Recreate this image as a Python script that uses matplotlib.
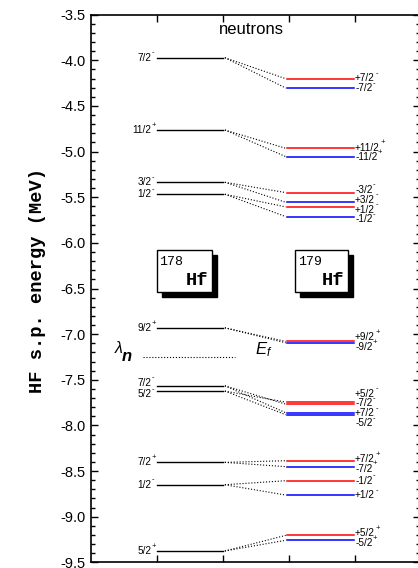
import numpy as np
import matplotlib
matplotlib.use("Agg")
import matplotlib.pyplot as plt
from matplotlib.patches import Rectangle
from matplotlib.ticker import MultipleLocator

plt.rcParams['font.family'] = ['Liberation Sans', 'DejaVu Sans']
plt.rcParams['mathtext.fontset'] = 'custom'
plt.rcParams['mathtext.rm'] = 'Liberation Sans'
plt.rcParams['mathtext.it'] = 'Liberation Sans:italic'
plt.rcParams['mathtext.bf'] = 'Liberation Sans:bold'

## 178Hf levels (left column)
left_omega = ['7/2', '11/2', '3/2', '1/2', '9/2', '7/2', '5/2', '7/2', '1/2', '5/2']
left_parity = ['-', '+', '-', '-', '+', '-', '-', '+', '-', '+']
left_e = [-3.971, -4.763, -5.336, -5.467, -6.931, -7.566, -7.624, -8.405, -8.650, -9.376]

## 179Hf partner levels (right column), one red and one blue per left level
red_sig = ['+', '+', '-', '+', '+', '-', '+', '+', '-', '+']
red_e = [-4.201, -4.964, -5.449, -5.606, -7.080, -7.767, -7.745, -8.387, -8.606, -9.205]
blue_sig = ['-', '-', '+', '-', '-', '+', '-', '-', '+', '-']
blue_e = [-4.303, -5.055, -5.555, -5.712, -7.095, -7.861, -7.883, -8.452, -8.763, -9.259]

lambda_n = -7.252


def spread(vals, gap):
    # push labels apart so they do not overlap, keeping groups centred
    idx = sorted(range(len(vals)), key=lambda i: -vals[i])
    blocks = []
    for i in idx:
        blocks.append([[i], vals[i]])
        while len(blocks) > 1:
            a, b = blocks[-2], blocks[-1]
            a_bot = a[1] - gap * (len(a[0]) - 1) / 2
            b_top = b[1] + gap * (len(b[0]) - 1) / 2
            if a_bot - b_top < gap:
                members = a[0] + b[0]
                mean = np.mean([vals[j] for j in members])
                blocks[-2:] = [[members, mean]]
            else:
                break
    out = [0.0] * len(vals)
    for members, c in blocks:
        n = len(members)
        for k, j in enumerate(members):
            out[j] = c + gap * ((n - 1) / 2 - k)
    return out


def level_label(ax, x, y, main, par, ha):
    t = ax.text(x, y, main, ha=ha, va='center', fontsize=7.2)
    ax.annotate(par, xy=(1, 0.62), xycoords=t, xytext=(0.3, 0),
                textcoords='offset points', ha='left', va='bottom', fontsize=5.5)


fig = plt.figure(figsize=(4.18, 5.68), dpi=100)
ax = fig.add_axes([90.7 / 418, 5.7 / 568, 328.8 / 418, 547.6 / 568])
ax.set_xlim(0, 4.975)
ax.set_ylim(-9.5, -3.5)

for e in left_e:
    ax.plot([1.0, 2.0], [e, e], color='black', lw=1.0)
for e in red_e:
    ax.plot([2.97, 3.99], [e, e], color='#ff0000', lw=1.1)
for e in blue_e:
    ax.plot([2.97, 3.99], [e, e], color='#0000ff', lw=1.1)

# dotted connectors
for i, e in enumerate(left_e):
    for e2 in (red_e[i], blue_e[i]):
        ax.plot([2.03, 2.95], [e, e2], color='black', lw=0.8, ls=':')

# level labels
left_y = spread(left_e, 0.125)
for i in range(len(left_e)):
    level_label(ax, 0.92, left_y[i], left_omega[i], left_parity[i], 'right')

right_e = red_e + blue_e
right_om = list(left_omega) * 2
right_par = list(left_parity) * 2
# in the -7.7 MeV group the red partners of 7/2- and 5/2- cross
right_sig = red_sig + blue_sig
right_y = spread(right_e, 0.108)
for i in range(len(right_e)):
    level_label(ax, 4.0, right_y[i], right_sig[i] + right_om[i], right_par[i], 'left')

# Fermi levels
ax.plot([0.79, 2.18], [lambda_n, lambda_n], color='black', lw=0.8, ls=':')
ax.text(0.42, -7.16, 'λ', ha='center', va='center', fontsize=11.5, fontstyle='italic')
ax.text(0.54, -7.24, 'n', ha='center', va='center', fontsize=12,
        fontstyle='italic', fontweight='bold')
ax.text(2.62, -7.17, r'$E_f$', ha='center', va='center', fontsize=12)

ax.text(2.43, -3.657, 'neutrons', ha='center', va='center', fontsize=12)

# nucleus boxes with drop shadow
for x0, w, mass in [(1.0, 0.835, '178'), (3.09, 0.80, '179')]:
    ax.add_patch(Rectangle((x0 + 0.08, -6.533 - 0.055), w, 0.46,
                           facecolor='black', edgecolor='black', lw=1, zorder=3))
    ax.add_patch(Rectangle((x0, -6.533), w, 0.46,
                           facecolor='white', edgecolor='black', lw=1, zorder=4))
    ax.text(x0 + 0.04, -6.21, mass, ha='left', va='center', fontsize=9.5,
            family='Liberation Mono', zorder=5)
    ax.text(x0 + w - 0.06, -6.41, 'Hf', ha='right', va='center', fontsize=13.5,
            family='Liberation Mono', fontweight='bold', zorder=5)

ax.set_ylabel('HF s.p. energy (MeV)', family='Liberation Mono', fontweight='bold',
              fontsize=13.5)
ax.yaxis.set_label_coords(-0.135, 0.514)
ax.yaxis.set_minor_locator(MultipleLocator(0.1))
yt = np.arange(-9.5, -3.49, 0.5)
ax.set_yticks(yt)
ax.set_yticklabels(['%.1f' % v for v in yt])
ax.set_xticks([1, 2, 3, 4])
ax.set_xticklabels([])
ax.tick_params(which='both', direction='in', top=True, right=True, width=1)
ax.tick_params(which='major', length=5, labelsize=10.5, pad=4)
ax.tick_params(which='minor', length=3)
ax.tick_params(axis='x', which='minor', bottom=False, top=False)
for s in ax.spines.values():
    s.set_linewidth(1.2)

fig.savefig('out.png', dpi=100)
